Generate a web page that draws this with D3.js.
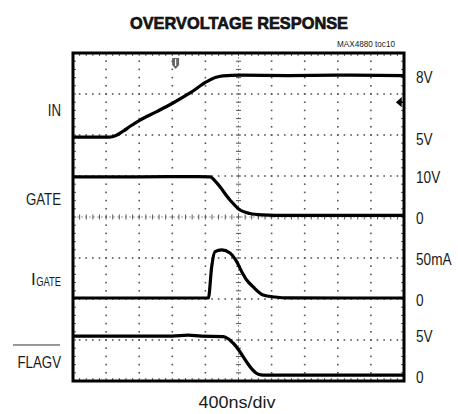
<!DOCTYPE html>
<html>
<head>
<meta charset="utf-8">
<script src="https://cdn.jsdelivr.net/npm/d3@7"></script>
<style>
  body { margin: 0; background: #fff; }
  text { font-family: "Liberation Sans", Arial, sans-serif; fill: #1a1a1a; }
</style>
</head>
<body>
<div id="chart"></div>
<script>
// time in ns, 400ns/div, 10 divisions
var timeTicks = d3.range(0, 4001, 400);
var titleText = "OVERVOLTAGE RESPONSE";
var tocText = "MAX4880 toc10";
var timeLabel = "400ns/div";

// traces: [time ns, value in channel units]
var inTrace = [[0,5.0],[300,5.0],[440,5.0],[520,5.08],[600,5.27],[700,5.55],[810,5.83],[1011,6.24],[1208,6.66],[1414,7.15],[1616,7.70],[1720,7.90],[1813,7.98],[2018,8.02],[2600,8.0],[3200,8.02],[4000,8.0]];
var gateTrace = [[0,9.6],[800,9.6],[1500,9.65],[1656,9.6],[1737,8.1],[1897,3.95],[2018,1.5],[2139,0.65],[2284,0.3],[2441,0.2],[3200,0.2],[4000,0.2]];
var igateTrace = [[0,0.7],[1000,0.7],[1636,0.7],[1676,38.9],[1716,57.2],[1797,59.3],[1897,55.6],[1978,45],[2039,32.8],[2099,22.7],[2175,14.5],[2296,4.4],[2441,1.9],[2600,0.8],[4000,0.7]];
var flagvTrace = [[0,4.8],[1200,4.8],[1390,4.92],[1550,4.8],[1816,4.75],[1880,4.45],[1937,3.93],[2240,0.15],[2300,0.05],[4000,0.05]];

// channel settings: units per division and division of the zero level
var channelNames = ["IN", "GATE", "IGATE", "FLAGV"];
var channelPerDiv = [2, 10, 50, 5];
var channelZeroDiv = [3.45, 4.02, 2.01, 0.134];

// right-hand level labels: [channel index, value, text]
var levelLabels = [[0,8,"8V"],[0,5,"5V"],[1,10,"10V"],[1,0,"0"],[2,50,"50mA"],[2,0,"0"],[3,5,"5V"],[3,0,"0"]];
// left-hand names sit at these channel values
var nameLevels = [6.3, 4.2, 22.5, 1.65];

var W = 458, H = 414;
var pLeft = 73, pRight = 404, pTop = 53, pBottom = 381;
var narrow = 0.78;

var svg = d3.select("#chart").append("svg")
  .attr("width", W).attr("height", H);

var x = d3.scaleLinear().domain([0, 4000]).range([pLeft, pRight]);
var divY = d3.scaleLinear().domain([0, 8]).range([pBottom, pTop]);

function chanY(ci) {
  return function(v) { return divY(channelZeroDiv[ci] + v / channelPerDiv[ci]); };
}

// squeeze a text to look like the condensed face of the original
function squeeze(sel, f) {
  sel.each(function() {
    var w = this.getComputedTextLength();
    d3.select(this).attr("textLength", w * f).attr("lengthAdjust", "spacingAndGlyphs");
  });
  return sel;
}

// grid dots
var grid = svg.append("g");
var fineY = d3.range(0, 8.0001, 0.2);
var fineX = d3.range(0, 4000.1, 80);
var dots = [];
timeTicks.slice(1, -1).forEach(function(t) {
  if (t === 2000) return;
  fineY.forEach(function(d) { dots.push([x(t), divY(d)]); });
});
d3.range(1, 8).forEach(function(k) {
  if (k === 4) return;
  fineX.forEach(function(t) { dots.push([x(t), divY(k)]); });
});
grid.selectAll("rect.dot").data(dots).enter().append("rect")
  .attr("class", "dot")
  .attr("x", function(d) { return d[0] - 0.8; })
  .attr("y", function(d) { return d[1] - 0.8; })
  .attr("width", 1.6).attr("height", 1.6)
  .attr("fill", "#555");

// centre cross lines with tick marks
grid.append("line").attr("x1", x(2000)).attr("x2", x(2000)).attr("y1", pTop).attr("y2", pBottom)
  .attr("stroke", "#888").attr("stroke-width", 0.8).attr("stroke-dasharray", "2,2");
grid.append("line").attr("x1", pLeft).attr("x2", pRight).attr("y1", divY(4)).attr("y2", divY(4))
  .attr("stroke", "#888").attr("stroke-width", 0.8).attr("stroke-dasharray", "2,2");
grid.selectAll("line.vt").data(fineY).enter().append("line").attr("class", "vt")
  .attr("x1", x(2000) - 2.5).attr("x2", x(2000) + 2.5)
  .attr("y1", function(d) { return divY(d); }).attr("y2", function(d) { return divY(d); })
  .attr("stroke", "#555").attr("stroke-width", 1);
grid.selectAll("line.ht").data(fineX).enter().append("line").attr("class", "ht")
  .attr("y1", divY(4) - 2.5).attr("y2", divY(4) + 2.5)
  .attr("x1", function(d) { return x(d); }).attr("x2", function(d) { return x(d); })
  .attr("stroke", "#555").attr("stroke-width", 1);

// ticks along the frame edges
grid.selectAll("line.et").data(fineX).enter().append("line").attr("class", "et")
  .attr("x1", function(d) { return x(d); }).attr("x2", function(d) { return x(d); })
  .attr("y1", pTop).attr("y2", pTop + 3).attr("stroke", "#555");
grid.selectAll("line.eb").data(fineX).enter().append("line").attr("class", "eb")
  .attr("x1", function(d) { return x(d); }).attr("x2", function(d) { return x(d); })
  .attr("y1", pBottom - 3).attr("y2", pBottom).attr("stroke", "#555");
grid.selectAll("line.el").data(fineY).enter().append("line").attr("class", "el")
  .attr("y1", function(d) { return divY(d); }).attr("y2", function(d) { return divY(d); })
  .attr("x1", pLeft).attr("x2", pLeft + 3).attr("stroke", "#555");
grid.selectAll("line.er").data(fineY).enter().append("line").attr("class", "er")
  .attr("y1", function(d) { return divY(d); }).attr("y2", function(d) { return divY(d); })
  .attr("x1", pRight - 3).attr("x2", pRight).attr("stroke", "#555");

// traces
var traces = [inTrace, gateTrace, igateTrace, flagvTrace];
traces.forEach(function(tr, ci) {
  var yc = chanY(ci);
  var line = d3.line()
    .x(function(d) { return x(d[0]); })
    .y(function(d) { return yc(d[1]); })
    .curve(d3.curveMonotoneX);
  svg.append("path").datum(tr)
    .attr("d", line)
    .attr("fill", "none")
    .attr("stroke", "#000")
    .attr("stroke-width", 3.2)
    .attr("stroke-linejoin", "round");
});

// trigger position marker (top) and trigger level arrow (right)
var tx = x(1240);
svg.append("path")
  .attr("d", "M" + (tx - 3.5) + "," + (pTop + 5) + "h7v7l-3.5,4l-3.5,-4z")
  .attr("fill", "#666");
svg.append("line").attr("x1", tx).attr("x2", tx).attr("y1", pTop + 6).attr("y2", pTop + 13)
  .attr("stroke", "#fff").attr("stroke-width", 1.2);
var ay = chanY(0)(6.7);
svg.append("path")
  .attr("d", "M" + (pRight - 7) + "," + ay + "l4,-3.5v7z M" + (pRight - 4) + "," + ay + "h3")
  .attr("fill", "#000").attr("stroke", "#000").attr("stroke-width", 1.5);

// frame
svg.append("rect")
  .attr("x", pLeft).attr("y", pTop)
  .attr("width", pRight - pLeft).attr("height", pBottom - pTop)
  .attr("fill", "none").attr("stroke", "#000").attr("stroke-width", 3);

// title
svg.append("text")
  .attr("x", 239).attr("y", 29)
  .attr("text-anchor", "middle")
  .attr("textLength", 218).attr("lengthAdjust", "spacingAndGlyphs")
  .style("font-weight", "bold").style("font-size", "17px")
  .style("stroke", "#000").style("stroke-width", 0.6)
  .text(titleText);
svg.append("text")
  .attr("x", 395).attr("y", 47)
  .attr("text-anchor", "end")
  .attr("textLength", 58).attr("lengthAdjust", "spacingAndGlyphs")
  .style("font-size", "9.5px")
  .text(tocText);

// right level labels
squeeze(svg.selectAll("text.lvl").data(levelLabels).enter().append("text")
  .attr("class", "lvl")
  .attr("x", 416)
  .attr("y", function(d) { return chanY(d[0])(d[1]) + 7.5; })
  .style("font-size", "16px")
  .text(function(d) { return d[2]; }), 0.85);

// left channel names
var nameG = svg.append("g");
squeeze(nameG.append("text").attr("x", 61).attr("y", chanY(0)(nameLevels[0]) + 6).attr("text-anchor", "end")
  .style("font-size", "17px").text("IN"), narrow);
squeeze(nameG.append("text").attr("x", 61).attr("y", chanY(1)(nameLevels[1]) + 6).attr("text-anchor", "end")
  .style("font-size", "17px").text("GATE"), narrow);
var igY = chanY(2)(nameLevels[2]) + 5;
var sub = squeeze(nameG.append("text").attr("x", 61).attr("y", igY + 1).attr("text-anchor", "end")
  .style("font-size", "12px").text("GATE"), narrow);
var subX = 61 - (+sub.attr("textLength"));
nameG.append("text").attr("x", subX - 0.5).attr("y", igY).attr("text-anchor", "end")
  .style("font-size", "17px").text("I");
var flY = chanY(3)(nameLevels[3]) + 6;
squeeze(nameG.append("text").attr("x", 61).attr("y", flY).attr("text-anchor", "end")
  .style("font-size", "17px").text("FLAGV"), narrow);
nameG.append("line").attr("x1", 13).attr("x2", 60)
  .attr("y1", flY - 23).attr("y2", flY - 23)
  .attr("stroke", "#333").attr("stroke-width", 1);

// time base
svg.append("text")
  .attr("x", 237).attr("y", 408)
  .attr("text-anchor", "middle")
  .attr("textLength", 77).attr("lengthAdjust", "spacingAndGlyphs")
  .style("font-size", "17px")
  .text(timeLabel);
</script>
</body>
</html>
